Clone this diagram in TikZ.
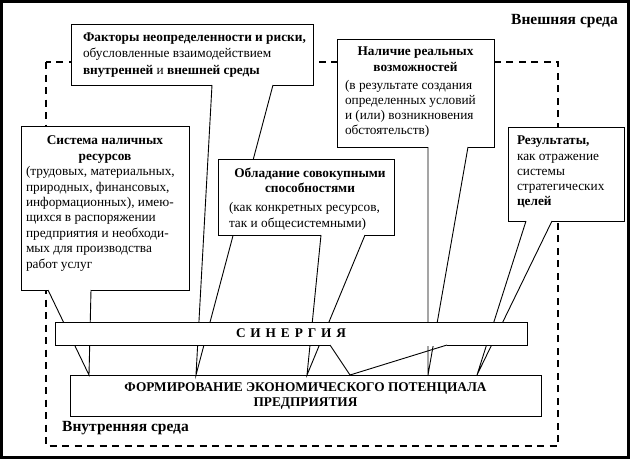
\documentclass[tikz,border=0pt]{standalone}
\usepackage{fontspec}
\setmainfont{Liberation Serif}
\usetikzlibrary{calc}
\newcommand\bxt[4]{\parbox[c][#2pt][t]{#1pt}{\vspace*{#3pt}#4}}
\newcommand\fs[1]{\fontsize{13.3}{#1}\selectfont}
\newcommand\tailfrom[5]{%
  \fill[white] ($(#1.south west)+(#2,-0.7)$) rectangle ($(#1.south west)+(#3,0.7)$);
  \draw[tail] ($(#1.south west)+(#2,0)$) -- ($(#4.north west)+(#5,0)$) -- ($(#1.south west)+(#3,0)$);}
\begin{document}
\begin{tikzpicture}[x=1pt,y=-1pt,
  box/.style={draw, fill=white, line width=0.9pt, inner sep=0pt, outer sep=0pt,
    anchor=north west, font=\fs{15.4}},
  tail/.style={line width=0.9pt},
  envlabel/.style={font=\fontsize{15.5}{18}\selectfont\bfseries, inner sep=0pt, anchor=base west}]
\useasboundingbox (0,0) rectangle (632,461);
\draw[line width=3pt] (1.6,1.6) rectangle (628.3,457.3);
\draw[line width=2.3pt, dash pattern=on 7pt off 5.5pt] (46,62) rectangle (558,446);
\node[envlabel] (ext) at (511,24) {Внешняя среда};
\node[envlabel] (int) at (62,431) {Внутренняя среда};
% bottom box
\node[box] (fb) at (70,375) {\bxt{471}{41}{8}{\fs{15}\centering\bfseries ФОРМИРОВАНИЕ  ЭКОНОМИЧЕСКОГО ПОТЕНЦИАЛА\\ ПРЕДПРИЯТИЯ\par}};
% box 1
\node[box] (b1) at (71,24) {\bxt{242}{61}{8.5}{\fs{16.5}\raggedright\leftskip=12pt \textbf{Факторы неопределенности  и риски,}\\ обусловленные взаимодействием\\ \textbf{внутренней} и \textbf{внешней среды}\par}};
\tailfrom{b1}{141}{202}{fb}{126}
% box 3
\node[box] (b3) at (337,39) {\bxt{157}{108}{8}{\fs{16}\centering\bfseries Наличие реальных\\ возможностей\par\vspace{3pt}\fs{15}\raggedright\leftskip=8pt\mdseries (в результате создания\\ определенных условий\\ и (или) возникновения\\ обстоятельств)\par}};
\tailfrom{b3}{91}{131}{fb}{358}
% box 5
\node[box] (b5) at (508,127) {\bxt{116}{94}{9}{\fs{15.3}\raggedright\leftskip=9pt \textbf{Результаты,}\\ как отражение\\ системы\\ стратегических\\ \textbf{целей}\par}};
\tailfrom{b5}{18}{44}{fb}{407}
% box 2
\node[box] (b2) at (21,126) {\bxt{168}{164}{10}{\fs{15.4}\centering\bfseries Система наличных\\ ресурсов\par\raggedright\leftskip=5pt\mdseries (трудовых, материальных,\\ природных, финансовых,\\ информационных), имею-\\ щихся в распоряжении\\ предприятия и необходи-\\ мых для производства\\ работ услуг\par}};
\tailfrom{b2}{27}{70}{fb}{19}
% box 4
\node[box] (b4) at (218,159) {\bxt{176}{76}{9}{\fs{15}\centering\leftskip=8pt plus 1fil\bfseries Обладание совокупными\\ способностями\par\vspace{3pt}\fs{16}\raggedright\leftskip=11pt\mdseries (как конкретных ресурсов,\\ так и общесистемными)\par}};
\tailfrom{b4}{103}{147}{fb}{237}
% synergy
\node[box, minimum width=472pt, minimum height=23pt, font=\fs{15.4}\bfseries] (sy) at (55,322) {\spaceskip=4.9pt С И Н Е Р Г И Я};
\tailfrom{sy}{275}{392}{fb}{280}
\end{tikzpicture}
\end{document}
